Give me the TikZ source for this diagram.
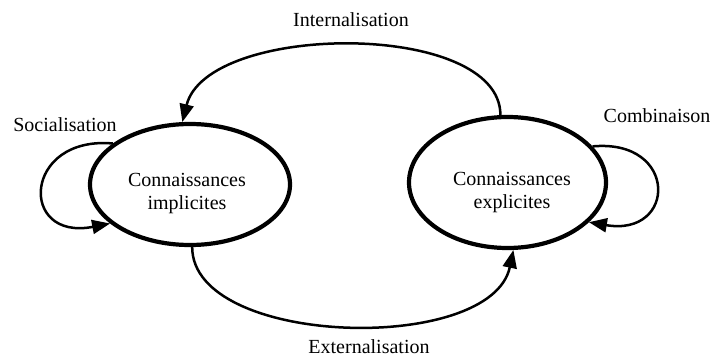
\documentclass[tikz,border=0pt]{standalone}
\usepackage{fontspec}
\setmainfont{Liberation Serif}
\usetikzlibrary{shapes.geometric,arrows.meta}
\tikzset{
  x=1pt, y=-1pt,
  knowbox/.style={ellipse, draw, line width=4.2pt, inner sep=0pt},
  txt/.style={inner sep=0pt, align=center, font=\fontsize{20}{23}\selectfont},
  lbl/.style={inner sep=0pt, anchor=base, font=\fontsize{20}{23}\selectfont},
  arc/.style={line width=2.5pt, -{Triangle[length=18pt,width=14pt]}}
}
\begin{document}
\begin{tikzpicture}
\useasboundingbox (0,0) rectangle (714,358);
\node[knowbox, minimum width=200pt, minimum height=121pt] (L) at (190,184.5) {};
\node[knowbox, minimum width=197pt, minimum height=131pt] (R) at (507.5,182.5) {};
\node[txt] (Lt) at (187,194) {Connaissances\\implicites};
\node[txt] (Rt) at (512,193) {Connaissances\\explicites};
\node[lbl] (li) at (351,27) {Internalisation};
\node[lbl] (ls) at (65,132) {Socialisation};
\node[lbl] (lc) at (657,123) {Combinaison};
\node[lbl] (le) at (369,353) {Externalisation};
\draw[arc] (R.96) .. controls +(0,-95) and +(25,-100) .. (L.97);
\draw[arc] (L.272) .. controls +(0,100) and +(-22,105) .. (R.275);
\draw[arc] (L.152.6) .. controls +(-90,-8) and +(-92,18) .. (L.206.6);
\draw[arc] (R.23.7) .. controls +(86,-8) and +(88,15) .. (R.334.4);
\end{tikzpicture}
\end{document}
